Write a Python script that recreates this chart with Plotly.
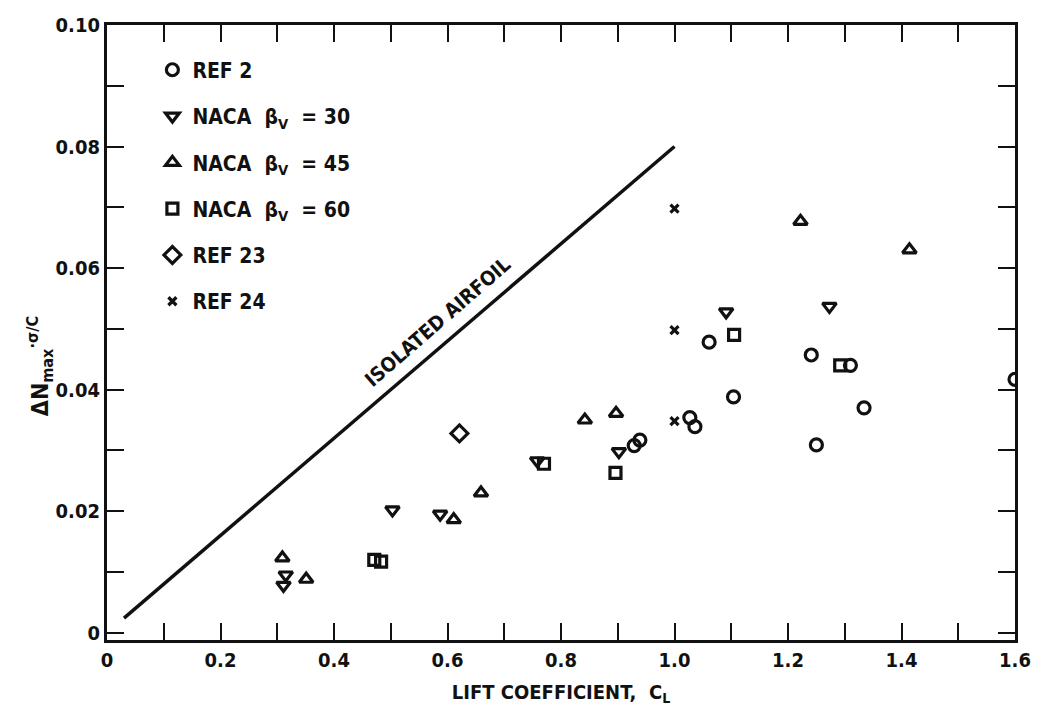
import plotly.graph_objects as go

# ---- data ----
ref2_x = [1.061, 1.104, 1.241, 1.250, 1.310, 1.334, 1.600, 1.027, 1.036, 0.929, 0.939]
ref2_y = [0.0478, 0.0388, 0.0457, 0.0309, 0.0440, 0.0370, 0.0417, 0.0354, 0.0339, 0.0308, 0.0317]

naca30_x = [0.311, 0.315, 0.503, 0.587, 0.758, 0.902, 1.091, 1.273]
naca30_y = [0.0078, 0.0095, 0.0202, 0.0195, 0.0283, 0.0298, 0.0528, 0.0537]

naca45_x = [0.309, 0.351, 0.611, 0.659, 0.842, 0.897, 1.222, 1.414]
naca45_y = [0.0123, 0.0088, 0.0186, 0.0230, 0.0350, 0.0361, 0.0677, 0.0630]

naca60_x = [0.471, 0.483, 0.770, 0.896, 1.105, 1.292]
naca60_y = [0.0120, 0.0117, 0.0278, 0.0263, 0.0490, 0.0440]

ref23_x = [0.621]
ref23_y = [0.0328]

ref24_x = [1.0, 1.0, 1.0]
ref24_y = [0.0698, 0.0498, 0.0348]

airfoil_x = [0.03, 1.0]
airfoil_y = [0.0024, 0.080]

x_tickvals = [i / 10 for i in range(17)]
x_ticktext = ["0", "", "0.2", "", "0.4", "", "0.6", "", "0.8", "", "1.0", "", "1.2", "", "1.4", "", "1.6"]
y_tickvals = [i / 100 for i in range(11)]
y_ticktext = ["0", "", "0.02", "", "0.04", "", "0.06", "", "0.08", "", "0.10"]

FONT = "Liberation Sans Narrow, DejaVu Sans Condensed, Arial Narrow, sans-serif"
BLACK = "#111111"

fig = go.Figure()

fig.add_trace(go.Scatter(x=airfoil_x, y=airfoil_y, mode="lines",
                         line=dict(color=BLACK, width=3.5), showlegend=False))

def add_series(xs, ys, name, symbol, size, lw=3.2):
    fig.add_trace(go.Scatter(
        x=xs, y=ys, mode="markers", name=name, legendgroup=name,
        marker=dict(symbol=symbol, size=size, color=BLACK,
                    line=dict(color=BLACK, width=lw)),
    ))

add_series(ref2_x, ref2_y, "REF 2", "circle-open", 12)
add_series(naca30_x, naca30_y, "NACA  β<sub>V</sub>  = 30", "triangle-down-open", 12)
add_series(naca45_x, naca45_y, "NACA  β<sub>V</sub>  = 45", "triangle-up-open", 12)
add_series(naca60_x, naca60_y, "NACA  β<sub>V</sub>  = 60", "square-open", 11)
add_series(ref23_x, ref23_y, "REF 23", "diamond-open", 13)
add_series(ref24_x, ref24_y, "REF 24", "x-thin-open", 8, lw=3.2)

fig.add_annotation(x=0.582, y=0.0512, xref="x", yref="y", text="ISOLATED AIRFOIL",
                   showarrow=False, textangle=-41, xanchor="center", yanchor="middle",
                   font=dict(family=FONT, size=20, color=BLACK, weight="bold"))

# y-axis title placed as an annotation (it sits a little below the axis centre)
fig.add_annotation(x=-0.074, y=0.445, xref="paper", yref="paper",
                   xanchor="center", yanchor="middle",
                   text="ΔN<sub>max</sub><sup>·σ/C</sup>", showarrow=False, textangle=-90,
                   font=dict(family=FONT, size=23, color=BLACK, weight="bold"))

fig.update_xaxes(range=[0, 1.6], tickvals=x_tickvals, ticktext=x_ticktext,
                 ticks="inside", ticklen=17, tickwidth=2, tickcolor=BLACK,
                 showline=True, linewidth=3, linecolor=BLACK, mirror="ticks",
                 showgrid=False, zeroline=False,
                 tickfont=dict(family=FONT, size=20, color=BLACK, weight="bold"),
                 title=dict(text="LIFT COEFFICIENT,  C<sub>L</sub>", standoff=14,
                            font=dict(family=FONT, size=20, color=BLACK, weight="bold")))
fig.update_yaxes(range=[-0.0012, 0.1], tickvals=y_tickvals, ticktext=y_ticktext,
                 ticks="inside", ticklen=17, tickwidth=2, tickcolor=BLACK,
                 showline=True, linewidth=3, linecolor=BLACK, mirror="ticks",
                 showgrid=False, zeroline=False,
                 tickfont=dict(family=FONT, size=20, color=BLACK, weight="bold"))

fig.update_layout(
    width=1043, height=722,
    margin=dict(l=107, r=20, t=25, b=82),
    paper_bgcolor="white", plot_bgcolor="white",
    font=dict(family=FONT, color=BLACK),
    legend=dict(x=0.05, y=0.96, xanchor="left", yanchor="top",
                bgcolor="rgba(0,0,0,0)", borderwidth=0,
                font=dict(family=FONT, size=21, color=BLACK, weight="bold"),
                tracegroupgap=16, itemwidth=30),
)

fig.write_html("out.html")
